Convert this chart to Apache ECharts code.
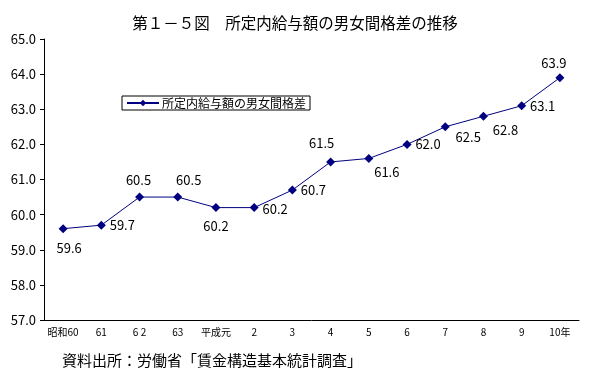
<!DOCTYPE html>
<html>
<head>
<meta charset="utf-8">
<script src="https://cdn.jsdelivr.net/npm/echarts@6/dist/echarts.min.js"></script>
<style>
  html, body { margin: 0; padding: 0; background: #fff; }
  #chart { width: 590px; height: 377px; }
</style>
</head>
<body>
<div id="chart"></div>
<script>
// 年次（昭和60年〜平成10年）
const years = ['昭和60', '61', '6 2', '63', '平成元', '2', '3', '4', '5', '6', '7', '8', '9', '10年'];
// 所定内給与額の男女間格差（男性=100）
const gap = [59.6, 59.7, 60.5, 60.5, 60.2, 60.2, 60.7, 61.5, 61.6, 62.0, 62.5, 62.8, 63.1, 63.9];
const seriesName = '所定内給与額の男女間格差';

// ラベルのずらし量（点の中心から）
const labelOffsets = [
  [6, 19], [21, 0], [-1, -17], [11, -17], [0, 18], [21, 1], [21, 0],
  [-9, -19], [18, 14], [21, 0], [23, 10], [22, 14], [21, 0], [-6, -15]
];

const font = '"Noto Sans CJK JP", sans-serif';
const navy = '#000080';

const chart = echarts.init(document.getElementById('chart'));
chart.setOption({
  animation: false,
  title: {
    text: '第１－５図　所定内給与額の男女間格差の推移',
    left: 'center',
    top: 10,
    textStyle: { fontFamily: font, fontSize: 15.5, fontWeight: 'normal', color: '#000' }
  },
  legend: {
    data: [seriesName],
    left: 122,
    top: 96,
    orient: 'horizontal',
    borderColor: '#000',
    borderWidth: 1,
    borderRadius: 0,
    padding: [1, 4],
    itemWidth: 32,
    itemHeight: 8,
    itemGap: 0,
    textStyle: { fontFamily: font, fontSize: 12, color: '#000', padding: [0, 0, 0, -2] }
  },
  grid: { left: 44, right: 11, top: 39, bottom: 57 },
  xAxis: {
    type: 'category',
    data: years,
    boundaryGap: true,
    axisLine: { lineStyle: { color: '#000', width: 1 } },
    axisTick: { inside: true, length: 3, lineStyle: { color: '#000' } },
    axisLabel: { fontFamily: font, fontSize: 10, color: '#000', margin: 7, interval: 0 }
  },
  yAxis: {
    type: 'value',
    min: 57,
    max: 65,
    interval: 1,
    splitLine: { show: false },
    axisLine: { show: true, lineStyle: { color: '#000', width: 1 } },
    axisTick: { show: true, length: 4, lineStyle: { color: '#000' } },
    axisLabel: {
      fontFamily: font, fontSize: 13, color: '#000', margin: 8,
      formatter: v => v.toFixed(1)
    }
  },
  series: [{
    name: seriesName,
    type: 'line',
    data: gap.map((v, i) => ({
      value: v,
      label: { offset: labelOffsets[i] }
    })),
    symbol: 'diamond',
    symbolSize: 9,
    itemStyle: { color: navy },
    lineStyle: { color: navy, width: 1 },
    label: {
      show: true,
      position: 'inside',
      fontFamily: font,
      fontSize: 13,
      color: '#000',
      formatter: p => p.value.toFixed(1)
    }
  }],
  graphic: [{
    type: 'text',
    left: 62,
    top: 353,
    style: {
      text: '資料出所：労働省「賃金構造基本統計調査」',
      font: '15px "Noto Sans CJK JP", sans-serif',
      fill: '#000'
    }
  }]
});
</script>
</body>
</html>
